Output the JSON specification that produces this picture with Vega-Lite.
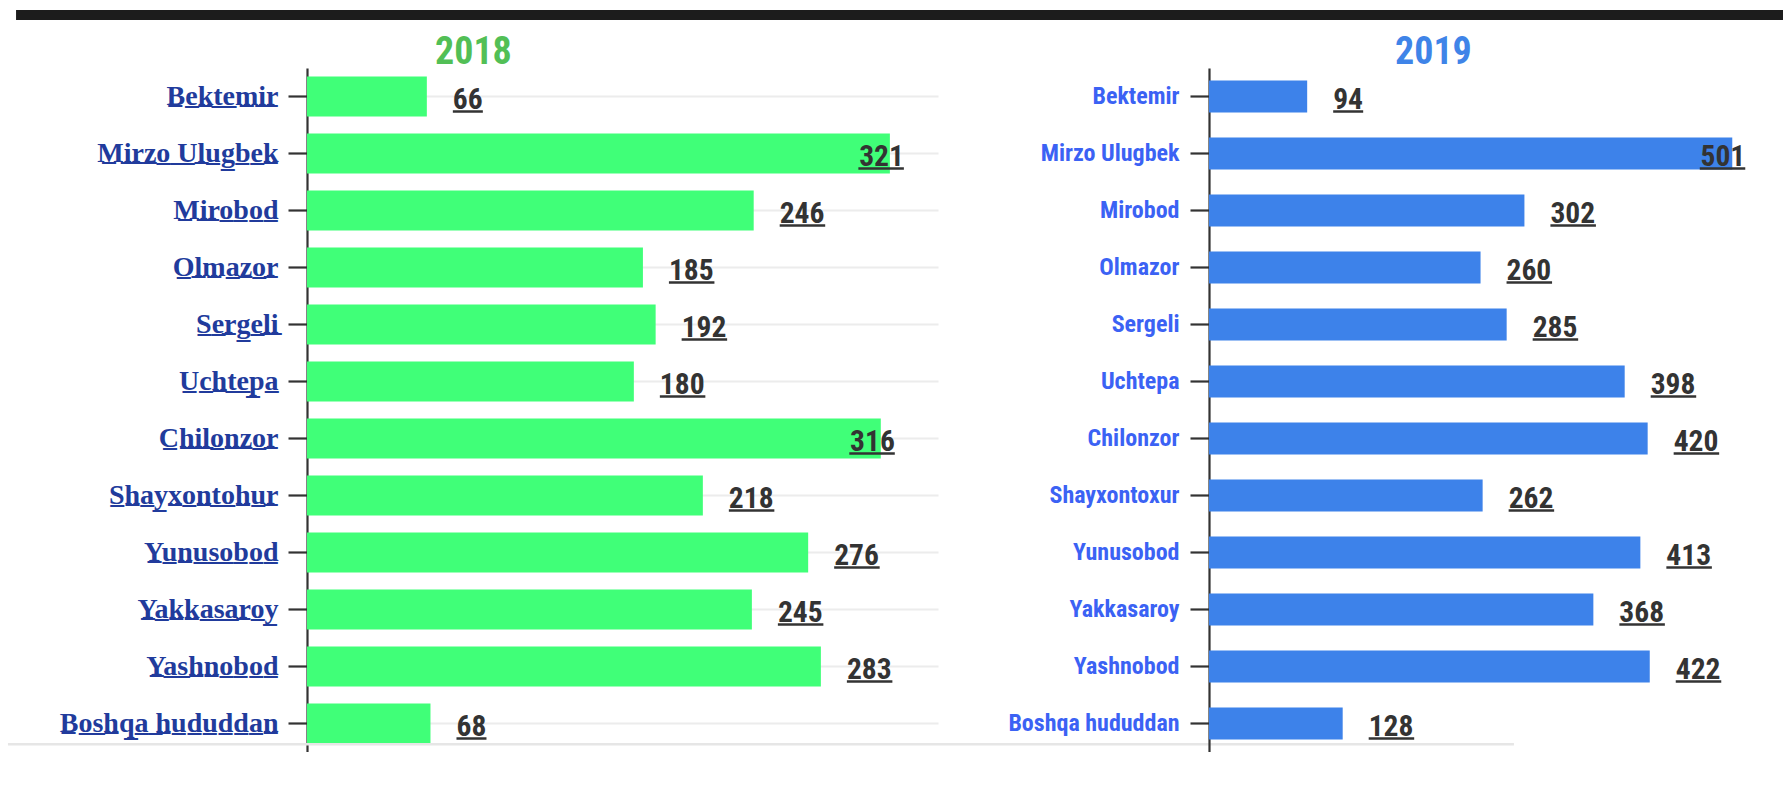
{
  "$schema": "https://vega.github.io/schema/vega-lite/v6.json",
  "background": "white",
  "padding": {"left": 7, "top": 10, "right": 0, "bottom": 0},
  "bounds": "flush",
  "spacing": 271,
  "config": {"view": {"stroke": null}},
  "datasets": {
    "y2018": [
      {"d": "Bektemir", "v": 66},
      {"d": "Mirzo Ulugbek", "v": 321},
      {"d": "Mirobod", "v": 246},
      {"d": "Olmazor", "v": 185},
      {"d": "Sergeli", "v": 192},
      {"d": "Uchtepa", "v": 180},
      {"d": "Chilonzor", "v": 316},
      {"d": "Shayxontohur", "v": 218},
      {"d": "Yunusobod", "v": 276},
      {"d": "Yakkasaroy", "v": 245},
      {"d": "Yashnobod", "v": 283},
      {"d": "Boshqa hududdan", "v": 68}
    ],
    "y2019": [
      {"d": "Bektemir", "v": 94},
      {"d": "Mirzo Ulugbek", "v": 501},
      {"d": "Mirobod", "v": 302},
      {"d": "Olmazor", "v": 260},
      {"d": "Sergeli", "v": 285},
      {"d": "Uchtepa", "v": 398},
      {"d": "Chilonzor", "v": 420},
      {"d": "Shayxontoxur", "v": 262},
      {"d": "Yunusobod", "v": 413},
      {"d": "Yakkasaroy", "v": 368},
      {"d": "Yashnobod", "v": 422},
      {"d": "Boshqa hududdan", "v": 128}
    ]
  },
  "hconcat": [
    {
      "data": {"name": "y2018"},
      "width": 631,
      "height": 684,
      "title": {"text": "2018", "anchor": "start", "frame": "group", "dx": 128, "offset": -91.5, "baseline": "alphabetic", "font": "Roboto Condensed, sans-serif", "fontSize": 38, "fontWeight": "bold", "color": "#52bf56"},
      "encoding": {
        "y": {
          "field": "d", "type": "nominal", "sort": null,
          "scale": {"paddingInner": 0.3, "paddingOuter": 0.15},
          "axis": {"title": null, "bandPosition": 0.5, "grid": true, "gridColor": "#ececec", "gridWidth": 2, "domainColor": "#333333", "domainWidth": 2.2, "tickColor": "#333333", "tickWidth": 2.2, "tickSize": 19, "labelPadding": 10, "labelFont": "Liberation Serif", "labelFontWeight": "bold", "labelFontSize": 28, "labelColor": "#213b9c", "labelLimit": 400, "labelExpr": "replace(datum.label, regexp('(.)', 'g'), '$1\u0332')"}
        },
        "x": {"field": "v", "type": "quantitative", "scale": {"domain": [0, 347.5]}, "axis": null}
      },
      "layer": [
        {"mark": {"type": "bar", "color": "#40ff78"}},
        {
          "transform": [{"filter": "datum.v < 300"}],
          "mark": {"type": "text", "align": "left", "baseline": "alphabetic", "dx": 26, "dy": 12.5, "font": "Roboto Condensed, sans-serif", "fontSize": 29.5, "fontWeight": "bold", "color": "#333333"},
          "encoding": {"text": {"field": "v", "type": "quantitative"}}
        },
        {
          "transform": [{"filter": "datum.v >= 300"}],
          "mark": {"type": "text", "align": "right", "baseline": "alphabetic", "dx": 14, "dy": 12.5, "font": "Roboto Condensed, sans-serif", "fontSize": 29.5, "fontWeight": "bold", "color": "#333333"},
          "encoding": {"text": {"field": "v", "type": "quantitative"}}
        },
        {
          "transform": [{"filter": "datum.v < 100"}],
          "mark": {"type": "tick", "orient": "horizontal", "size": 30, "thickness": 2.5, "xOffset": 41, "yOffset": 15, "color": "#333333", "opacity": 1}
        },
        {
          "transform": [{"filter": "datum.v >= 100 && datum.v < 300"}],
          "mark": {"type": "tick", "orient": "horizontal", "size": 45.5, "thickness": 2.5, "xOffset": 48.75, "yOffset": 15, "color": "#333333", "opacity": 1}
        },
        {
          "transform": [{"filter": "datum.v >= 300"}],
          "mark": {"type": "tick", "orient": "horizontal", "size": 45.5, "thickness": 2.5, "xOffset": -8.75, "yOffset": 15, "color": "#333333", "opacity": 1}
        },
        {
          "transform": [{"filter": "datum.d == 'Bektemir'"}],
          "mark": {"type": "tick", "orient": "horizontal", "size": 1768, "thickness": 10, "yOffset": -81.5, "color": "#1c1c1c", "opacity": 1},
          "encoding": {"x": {"datum": 326.6}}
        },
        {
          "transform": [{"filter": "datum.d == 'Boshqa hududdan'"}],
          "mark": {"type": "tick", "orient": "horizontal", "size": 1506, "thickness": 2.5, "yOffset": 20.8, "color": "#e6e6e6", "opacity": 1},
          "encoding": {"x": {"datum": 250}}
        }
      ]
    },
    {
      "data": {"name": "y2019"},
      "width": 564,
      "height": 684,
      "title": {"text": "2019", "anchor": "start", "frame": "group", "dx": 186, "offset": -33.5, "baseline": "alphabetic", "font": "Roboto Condensed, sans-serif", "fontSize": 38, "fontWeight": "bold", "color": "#3f84e8"},
      "encoding": {
        "y": {
          "field": "d", "type": "nominal", "sort": null,
          "scale": {"paddingInner": 0.44, "paddingOuter": 0.22},
          "axis": {"title": null, "bandPosition": 0.5, "grid": false, "domainColor": "#333333", "domainWidth": 2.2, "tickColor": "#333333", "tickWidth": 2.2, "tickSize": 19, "labelPadding": 11, "labelFont": "Roboto Condensed, sans-serif", "labelFontWeight": "bold", "labelFontSize": 24, "labelColor": "#3b62f4", "labelLimit": 400}
        },
        "x": {"field": "v", "type": "quantitative", "scale": {"domain": [0, 540]}, "axis": null}
      },
      "layer": [
        {"mark": {"type": "bar", "color": "#3d82ea"}},
        {
          "transform": [{"filter": "datum.v < 450"}],
          "mark": {"type": "text", "align": "left", "baseline": "alphabetic", "dx": 26, "dy": 12, "font": "Roboto Condensed, sans-serif", "fontSize": 29.5, "fontWeight": "bold", "color": "#333333"},
          "encoding": {"text": {"field": "v", "type": "quantitative"}}
        },
        {
          "transform": [{"filter": "datum.v >= 450"}],
          "mark": {"type": "text", "align": "right", "baseline": "alphabetic", "dx": 13, "dy": 12, "font": "Roboto Condensed, sans-serif", "fontSize": 29.5, "fontWeight": "bold", "color": "#333333"},
          "encoding": {"text": {"field": "v", "type": "quantitative"}}
        },
        {
          "transform": [{"filter": "datum.v < 100"}],
          "mark": {"type": "tick", "orient": "horizontal", "size": 30, "thickness": 2.5, "xOffset": 41, "yOffset": 15, "color": "#333333", "opacity": 1}
        },
        {
          "transform": [{"filter": "datum.v >= 100 && datum.v < 450"}],
          "mark": {"type": "tick", "orient": "horizontal", "size": 45.5, "thickness": 2.5, "xOffset": 48.75, "yOffset": 15, "color": "#333333", "opacity": 1}
        },
        {
          "transform": [{"filter": "datum.v >= 450"}],
          "mark": {"type": "tick", "orient": "horizontal", "size": 45.5, "thickness": 2.5, "xOffset": -9.75, "yOffset": 15, "color": "#333333", "opacity": 1}
        }
      ]
    }
  ]
}
